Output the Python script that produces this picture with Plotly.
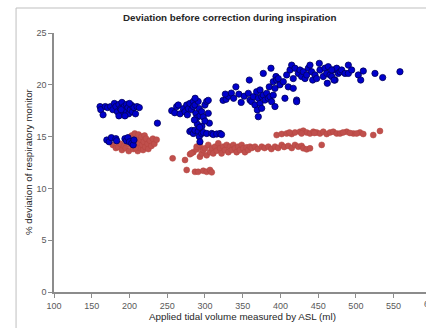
import plotly.graph_objects as go

# ---- Data ----
blue_x = [
    # cluster near 160-215 ml (upper)
    161, 162, 165, 168, 171, 175, 178, 180, 182, 184, 186, 188, 190, 191, 193, 195, 196, 198, 199, 201,
    203, 204, 206, 208, 210, 213, 186, 194, 200, 189, 237,
    # cluster near 170-206 ml (lower)
    170, 173, 176, 182, 183, 194, 196, 198, 200, 203, 205, 206,
    # cluster near 255-322 ml
    256, 260, 262.5, 264.7, 267, 271.4, 273.6, 275.8, 276.7, 278, 280, 282.4, 284.6, 284.6, 286.8, 288,
    289, 291, 292.5, 293.4, 295.7, 297.8, 300, 302.3, 304.4, 304.4, 305.8, 280, 282.4, 284.6, 286.8,
    291, 292.5, 293.4, 295.7, 297.8, 302.3, 309, 311, 315.6, 320, 322, 290, 296, 300, 286, 293, 287,
    # cluster 324-560 ml
    324, 328, 331, 335, 338, 341, 345, 348, 352, 327,
    358.8, 357.5, 359.7, 361.9, 364, 366.3, 368.5, 369.4, 370.7, 370.7, 373, 373, 375.2, 375.2, 377.3,
    377.3, 379.6, 381.8, 383.9, 385.2, 386.2, 387.5, 388.4, 390.5, 390.5, 392.8, 392.8, 394.1, 395,
    397.2, 399.4, 403.8, 406, 408.3, 410.4, 412.7, 414.9, 417, 417, 419.3, 421.5, 421.5, 423.7, 425.9,
    428.1, 430.3, 432.6, 434.8, 437, 439.2, 441.4, 442.8, 445.8, 448, 451.5, 452.4, 456.8, 459, 461.3,
    462.1, 463.4, 465.7, 470, 472.4, 474.6, 476.7,
    468, 468, 471, 479, 481.2, 485.6, 490, 490, 494.4, 503.2, 506.4, 509.8, 525.3, 535.5, 558.4,
]
blue_y = [
    17.9, 17.6, 17.1, 17.9, 17.8, 17.9, 17.6, 18.2, 17.9, 17.4, 18.1, 17.7, 18.3, 17.3, 17.9, 17.5, 18.1, 17.8, 17.2, 17.6,
    18.0, 17.4, 17.8, 17.2, 17.9, 17.8, 17.0, 17.0, 18.2, 17.6, 16.3,
    14.67, 14.5, 14.9, 14.8, 14.6, 14.8, 14.6, 14.9, 14.5, 14.35, 14.2, 14.67,
    17.5, 17.3, 17.9, 18.05, 17.2, 17.7, 17.4, 18.05, 17.1, 17.7, 18.2, 17.6, 18.4, 17.9, 18.05, 17.25,
    16.8, 18.4, 17.7, 17.0, 17.4, 16.9, 18.05, 18.4, 18.5, 17.25, 16.3, 15.5, 15.6, 15.3, 15.6,
    15.5, 15.0, 14.5, 15.3, 15.4, 15.3, 15.3, 15.2, 15.25, 15.3, 15.2, 16.2, 16.0, 16.5, 16.6, 15.9, 18.7,
    18.5, 18.6, 18.9, 19.2, 18.7, 19.8, 19.1, 18.3, 18.9, 19.1,
    20.46, 19.18, 18.53, 18.37, 18.85, 18.05, 19.33, 17.57, 16.92, 18.7, 19.5, 18.2, 18.85, 17.73, 21.1,
    19.0, 18.53, 19.18, 18.7, 19.8, 18.85, 21.6, 18.37, 19.0, 20.3, 19.66, 17.9, 20.8, 20.46,
    20.6, 20.0, 20.3, 18.7, 20.95, 19.8, 21.43, 21.9, 20.6, 19.66, 21.6, 18.53, 18.37, 21.1, 21.43,
    20.8, 21.26, 20.6, 20.95, 21.6, 21.9, 21.26, 20.46, 20.95, 20.6, 22.07, 21.43, 20.8, 21.6, 21.1,
    20.15, 21.75, 20.95, 21.43, 20.46, 21.6, 21.1,
    21.43, 20.8, 20.46, 21.26, 21.43, 21.1, 21.9, 21.1, 21.43, 20.95, 20.46, 21.33, 21.1, 20.7, 21.26,
]

red_x = [
    # cluster near 178-236 ml
    178, 182, 185, 188, 190, 193, 195, 197, 199, 200, 202, 203, 205, 206, 207, 209, 210, 211, 212, 213,
    214, 215, 216, 217, 218, 219, 220, 221, 222, 224, 225, 227, 229, 231, 233, 236, 204, 208,
    # lower band 257-455 ml
    257.2, 273.6, 280.2, 284.6, 289, 292.5, 293.4, 295.7, 297.8, 300, 302.3, 304.4, 306.7, 309, 311,
    313.3, 315.6, 317.7, 320, 322, 324.3, 326.5, 328.8, 331, 333.2, 335.4, 337.6, 339.8, 342, 344.2,
    346.4, 348.7, 350.8, 353, 355.3, 357.4, 359.7, 282, 289, 293,
    362, 366.3, 370, 375.2, 379, 384, 388, 392.8, 397, 401.7, 405, 410.4, 415, 419.3, 423.7, 428,
    430.3, 434.8, 439.2, 454.7,
    # lowest row 274-309 ml
    275.8, 286.8, 291, 297.8, 302.3, 306.7, 309,
    # upper band 395-532 ml
    395, 401.7, 408.3, 414.9, 419.3, 425.9, 430.3, 434.8, 439.2, 443.6, 448, 452.4, 456.8, 461.3,
    465.7, 470, 474.6, 479, 487.8, 496.6, 505.4, 509.8, 523, 531.9, 412, 428, 445, 483, 492, 501,
]
red_y = [
    14.2, 13.9, 14.0, 14.3, 13.7, 14.1, 13.9, 14.5, 13.6, 14.9, 14.2, 15.1, 13.8, 14.6, 15.3, 14.0, 14.8, 13.6, 15.2, 14.4,
    13.9, 14.7, 15.0, 14.2, 13.7, 14.5, 15.1, 14.0, 14.8, 14.3, 13.8, 14.6, 14.1, 14.8, 14.3, 14.7, 14.4, 13.9,
    12.9, 12.74, 13.3, 13.5, 13.77, 13.96, 13.06, 13.38, 13.7, 13.87, 13.2, 14.2, 13.5, 13.87, 13.38,
    14.03, 13.64, 14.35, 13.87, 13.38, 14.03, 13.7, 14.2, 13.5, 14.03, 13.7, 14.2, 13.87, 13.5, 14.03,
    13.7, 14.2, 13.87, 13.5, 13.96, 13.7, 14.03, 13.4, 14.03, 14.2,
    13.9, 14.03, 13.8, 14.03, 13.9, 14.03, 13.8, 14.03, 13.9, 14.2, 14.0, 14.1, 13.9, 14.2, 14.03, 14.1,
    13.87, 13.77, 13.87, 14.2,
    11.78, 11.6, 11.6, 11.7, 11.6, 11.78, 11.55,
    15.15, 15.25, 15.3, 15.25, 15.4, 15.47, 15.57, 15.4, 15.3, 15.47, 15.4, 15.3, 15.47, 15.25,
    15.4, 15.47, 15.3, 15.3, 15.47, 15.3, 15.4, 15.25, 15.15, 15.54, 15.4, 15.3, 15.35, 15.4, 15.35, 15.3,
]

x_ticks = [100, 150, 200, 250, 300, 350, 400, 450, 500, 550]
y_ticks = [0, 5, 10, 15, 20, 25]

title_text = "Deviation before correction during inspiration"
x_title = "Applied tidal volume measured by ASL (ml)"
y_title = "% deviation of respiratory monitor"

FONT = "Liberation Sans, Arial, sans-serif"
AXIS_COL = "#8c8c8c"

fig = go.Figure()
fig.add_trace(go.Scatter(
    x=red_x, y=red_y, mode="markers",
    marker=dict(color="#C0504D", size=6, line=dict(width=0.5, color="#B5453F")),
    showlegend=False, hoverinfo="skip"))
fig.add_trace(go.Scatter(
    x=blue_x, y=blue_y, mode="markers",
    marker=dict(color="#0000CC", size=6.3, line=dict(width=0.8, color="#00005A")),
    showlegend=False, hoverinfo="skip"))

fig.update_layout(
    width=426, height=328,
    margin=dict(l=54, r=0, t=33, b=36),
    paper_bgcolor="white", plot_bgcolor="white",
    font=dict(family=FONT, color="#595959", size=9),
    xaxis=dict(range=[100, 592.9], tickvals=x_ticks, ticktext=[str(v) for v in x_ticks],
               showgrid=False, zeroline=False, showline=True, linecolor=AXIS_COL, linewidth=1.5,
               ticks="outside", ticklen=4, tickcolor=AXIS_COL, tickwidth=1,
               tickfont=dict(size=9, color="#595959")),
    yaxis=dict(range=[0, 25], tickvals=y_ticks, showgrid=False, zeroline=False,
               showline=True, linecolor=AXIS_COL, linewidth=1.5,
               ticks="outside", ticklen=4, tickcolor=AXIS_COL, tickwidth=1,
               tickfont=dict(size=9, color="#595959")),
    annotations=[
        dict(text="<b>" + title_text + "</b>", xref="paper", yref="paper", x=0.473, y=1.058,
             showarrow=False, xanchor="center", yanchor="middle",
             font=dict(size=9.8, color="#262626", family=FONT)),
        dict(text=x_title, xref="paper", yref="paper", x=0.507, y=-0.0965,
             showarrow=False, xanchor="center", yanchor="middle",
             font=dict(size=9.8, color="#262626", family=FONT)),
        dict(text=y_title, xref="paper", yref="paper", x=-0.067, y=0.502, textangle=-90,
             showarrow=False, xanchor="center", yanchor="middle",
             font=dict(size=9.8, color="#262626", family=FONT)),
        dict(text="600", xref="paper", yref="paper", x=1.0145, y=-0.045,
             showarrow=False, xanchor="center", yanchor="middle",
             font=dict(size=9, color="#595959", family=FONT)),
    ],
    shapes=[
        dict(type="rect", xref="paper", yref="paper", x0=-0.102, y0=-0.2, x1=1.03, y1=1.0965,
             line=dict(color="#bfbfbf", width=1), fillcolor="rgba(0,0,0,0)", layer="below"),
    ],
)

fig.write_html("out.html")
